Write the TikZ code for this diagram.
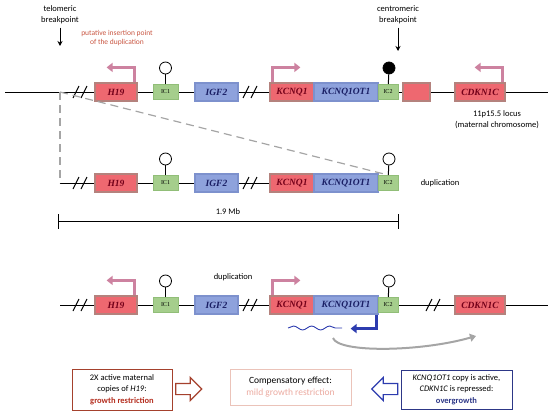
\documentclass[tikz,border=0pt]{standalone}
\usepackage{fontspec}
\setmainfont{Carlito}
\newfontfamily\fontegene{Liberation Serif}
\usepackage{xcolor}
\usepackage{tikz}
\usetikzlibrary{arrows.meta,shapes.arrows,decorations.pathmorphing}
\definecolor{vermelhogene}{RGB}{238,104,112}
\definecolor{bordavermelha}{RGB}{180,130,125}
\definecolor{azulgene}{RGB}{142,162,220}
\definecolor{bordaazul}{RGB}{125,145,205}
\definecolor{verdeic}{RGB}{165,206,140}
\definecolor{bordaverde}{RGB}{145,190,120}
\definecolor{textovermelho}{RGB}{115,0,25}
\definecolor{textoazul}{RGB}{25,30,100}
\definecolor{rosaseta}{RGB}{205,130,160}
\definecolor{cinzatraco}{RGB}{165,165,165}
\definecolor{vermelhoinsercao}{RGB}{200,85,65}
\definecolor{marromcaixa}{RGB}{165,65,45}
\definecolor{vermelhocresc}{RGB}{180,45,30}
\definecolor{rosaclaro}{RGB}{235,195,185}
\definecolor{rosatexto}{RGB}{235,170,160}
\definecolor{azulcaixa}{RGB}{45,55,135}
\definecolor{azulseta}{RGB}{45,60,175}
\tikzset{
  genever/.style={rectangle,draw=bordavermelha,fill=vermelhogene,line width=1.2pt,
    minimum width=42pt,minimum height=18pt,inner sep=0pt,
    font=\fontegene\bfseries\itshape\fontsize{9.5}{10}\selectfont,text=textovermelho},
  geneaz/.style={genever,draw=bordaazul,fill=azulgene,text=textoazul,minimum width=43pt},
  ic/.style={rectangle,draw=bordaverde,fill=verdeic,line width=1pt,minimum width=25pt,
    minimum height=15pt,inner sep=0pt,font=\fontegene\fontsize{6}{6}\selectfont},
  pirulito/.style={circle,draw=black,fill=white,line width=0.8pt,minimum size=12pt,inner sep=0pt},
  cromo/.style={line width=1pt,black},
  tracejado/.style={line width=1.2pt,cinzatraco,dash pattern=on 8pt off 5pt},
  setagene/.style={-{Triangle[length=6pt,width=9pt]},line width=2.5pt,rosaseta},
  setapreta/.style={-{Stealth[length=5pt,width=5pt]},line width=1pt},
  setaazul/.style={-{Triangle[length=6pt,width=9pt]},line width=2.5pt,azulseta},
  setacinza/.style={-{Triangle[length=6pt,width=8pt]},line width=2pt,cinzatraco},
  rotulo/.style={align=center,font=\fontsize{8.5}{11}\selectfont},
  caixa/.style={rectangle,draw,line width=1pt,align=center,inner sep=2pt,
    font=\fontsize{8.5}{11.5}\selectfont},
  setabloco/.style={single arrow,draw,fill=white,line width=1.2pt,minimum height=26pt,
    minimum width=22pt,inner xsep=0pt,inner ysep=5pt,single arrow head extend=6pt}
}
\newcommand{\quebra}[2]{\draw[cromo] (#1-7,#2+6) -- (#1-1,#2-6) (#1+1,#2+6) -- (#1+7,#2-6);}

\begin{document}
\begin{tikzpicture}[x=1pt,y=-1pt]
\useasboundingbox (0,0) rectangle (550,415);
% pontos de quebra
\node[rotulo] (telo) at (60,15) {telomeric\\breakpoint};
\coordinate (telofim) at (60,46);
\draw[setapreta] (telo.south) -- (telofim);
\node[rotulo] (centro) at (398,15) {centromeric\\breakpoint};
\coordinate (centrofim) at (398,51);
\draw[setapreta] (centro.south) -- (centrofim);
\node[rotulo,text=vermelhoinsercao,font=\fontsize{7.5}{9.5}\selectfont] (insercao) at (117,38)
  {putative insertion point\\of the duplication};

% linha 1: locus materno
\coordinate (ini1) at (5,92);
\coordinate (fim1) at (548,92);
\draw[cromo] (ini1) -- (fim1);
\quebra{80}{92}
\quebra{250}{92}
\node[genever] (h19a) at (116,92) {H19};
\node[ic] (ic1a) at (165.5,92) {IC1};
\node[geneaz] (igf2a) at (216.5,92) {IGF2};
\node[genever,minimum width=44pt] (kcnq1a) at (292,92) {KCNQ1};
\node[geneaz,minimum width=64pt] (kcnqota) at (346,92) {KCNQ1OT1};
\node[ic,minimum width=20pt] (ic2a) at (388,92) {IC2};
\node[genever,minimum width=27pt] (extraa) at (416.5,92) {};
\node[genever,minimum width=50pt] (cdkn1ca) at (480,92) {CDKN1C};
\node[pirulito] (p1a) at (165.5,68) {};
\draw[cromo] (ic1a) -- (p1a);
\node[pirulito,fill=black] (p2a) at (389,68) {};
\draw[cromo] (ic2a) -- (p2a);
\draw[setagene] ([xshift=-3pt]h19a.north east) |- ++(-28,-15);
\draw[setagene] ([xshift=3pt]kcnq1a.north west) |- ++(28,-15);
\draw[setagene] ([xshift=-3pt]cdkn1ca.north east) |- ++(-28,-15);
\node[rotulo] (locus) at (497,120) {11p15.5 locus\\(maternal chromosome)};

% linha 2: duplicacao
\coordinate (ini2) at (60,183);
\node[genever] (h19b) at (116,183) {H19};
\node[ic] (ic1b) at (165.5,183) {IC1};
\node[geneaz] (igf2b) at (216.5,183) {IGF2};
\node[genever,minimum width=44pt] (kcnq1b) at (292,183) {KCNQ1};
\node[geneaz,minimum width=64pt] (kcnqotb) at (346,183) {KCNQ1OT1};
\node[ic,minimum width=20pt] (ic2b) at (388,183) {IC2};
\draw[cromo] (ini2) -- (h19b);
\draw[cromo] (h19b) -- (ic1b) (ic1b) -- (igf2b) (igf2b) -- (kcnq1b);
\quebra{80}{183}
\quebra{250}{183}
\node[pirulito] (p1b) at (165.5,159) {};
\draw[cromo] (ic1b) -- (p1b);
\node[pirulito] (p2b) at (389,159) {};
\draw[cromo] (ic2b) -- (p2b);
\coordinate (dup0) at (60,92);
\draw[tracejado] (dup0) -- (ini2);
\draw[tracejado] (dup0) -- (ic2b.north);
\node[rotulo] (dupb) at (440,183) {duplication};

% escala
\coordinate (esc1) at (58,221);
\coordinate (esc2) at (398,221);
\draw[line width=0.8pt] (esc1) -- (esc2);
\draw[line width=0.8pt] ([yshift=7pt]esc1) -- ([yshift=-8pt]esc1);
\draw[line width=0.8pt] ([yshift=7pt]esc2) -- ([yshift=-8pt]esc2);
\node[rotulo] (tamanho) at (228,212) {1.9 Mb};

% linha 3: resultado
\coordinate (ini3) at (60,305);
\coordinate (fim3) at (548,305);
\draw[cromo] (ini3) -- (fim3);
\quebra{80}{305}
\quebra{250}{305}
\quebra{433}{305}
\node[genever] (h19c) at (116,305) {H19};
\node[ic] (ic1c) at (165.5,305) {IC1};
\node[geneaz] (igf2c) at (216.5,305) {IGF2};
\node[genever,minimum width=44pt] (kcnq1c) at (292,305) {KCNQ1};
\node[geneaz,minimum width=64pt] (kcnqotc) at (346,305) {KCNQ1OT1};
\node[ic,minimum width=20pt] (ic2c) at (388,305) {IC2};
\node[genever,minimum width=50pt] (cdkn1cc) at (480,305) {CDKN1C};
\node[pirulito] (p1c) at (165.5,281) {};
\draw[cromo] (ic1c) -- (p1c);
\node[pirulito] (p2c) at (389,281) {};
\draw[cromo] (ic2c) -- (p2c);
\draw[setagene] ([xshift=-3pt]h19c.north east) |- ++(-28,-15);
\draw[setagene] ([xshift=3pt]kcnq1c.north west) |- ++(28,-15);
\draw[setaazul] ([xshift=-2pt]kcnqotc.south east) |- ++(-26,14);
\node[rotulo] (dupc) at (233,277) {duplication};
\coordinate (onda1) at (288,328);
\coordinate (onda2) at (342,328);
\draw[azulseta,line width=0.9pt,decorate,decoration={snake,amplitude=2pt,segment length=18pt}]
  (onda1) -- (onda2);
\coordinate (cinza1) at (333,338);
\coordinate (cinza2) at (476,336);
\draw[setacinza] (cinza1) .. controls (338,353) and (420,352) .. (cinza2);

% efeitos
\node[caixa,draw=marromcaixa,minimum width=100pt,minimum height=41pt] (efeitoh19) at (122,389.5)
  {2X active maternal\\copies of \textit{H19}:\\{\color{vermelhocresc}\bfseries growth restriction}};
\node[setabloco,draw=marromcaixa] (setadir) at (186,389) {};
\node[caixa,draw=rosaclaro,minimum width=121pt,minimum height=36pt,
  font=\fontsize{9.5}{12}\selectfont] (efeitocomp) at (290.5,387)
  {Compensatory effect:\\{\color{rosatexto}mild growth restriction}};
\node[setabloco,draw=azulseta,shape border rotate=180] (setaesq) at (387.5,389) {};
\node[caixa,draw=azulcaixa,minimum width=111pt,minimum height=39pt] (efeitokcn) at (456.5,389.5)
  {\textit{KCNQ1OT1} copy is active,\\\textit{CDKN1C} is repressed:\\{\color{azulcaixa}\bfseries overgrowth}};
\end{tikzpicture}
\end{document}
